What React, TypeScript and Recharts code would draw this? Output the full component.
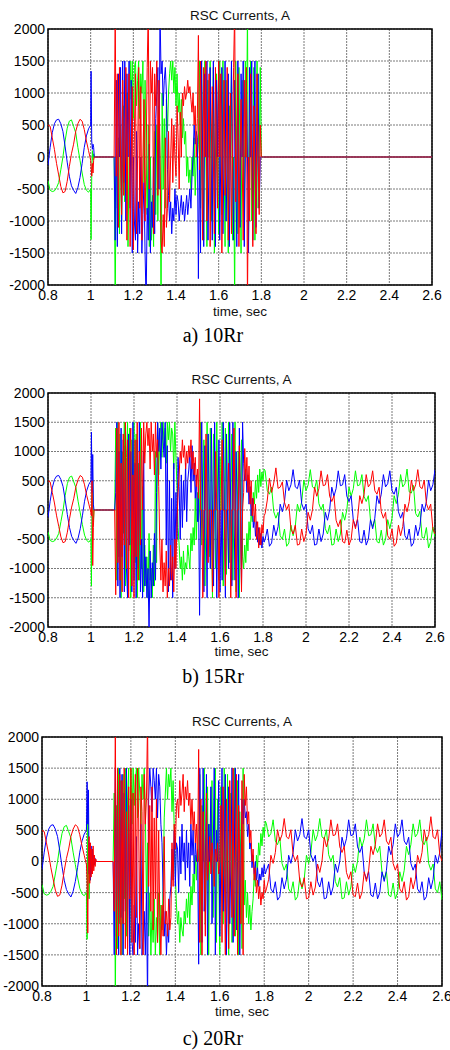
import React from "react";
import { LineChart, Line, XAxis, YAxis, CartesianGrid, ReferenceArea } from "recharts";

// axes
const X_TICKS = [0.8, 1, 1.2, 1.4, 1.6, 1.8, 2, 2.2, 2.4, 2.6];
const Y_TICKS = [-2000, -1500, -1000, -500, 0, 500, 1000, 1500, 2000];
const TITLE = "RSC Currents, A";
const X_LABEL = "time, sec";
const CAPTIONS = ["a) 10Rr", "b) 15Rr", "c) 20Rr"];

// pre-fault, 0.80 .. 1.00 s every 0.01 s (same for all three cases)
const PRE_RED = [500, 480, 300, 120, -100, -280, -460, -560, -540, -380, -150, 50, 200, 400, 520, 590, 560, 430, 250, 100, -50];
const PRE_GREEN = [-370, -520, -540, -530, -480, -400, -200, 0, 250, 450, 560, 580, 480, 380, 150, -50, -250, -430, -520, -550, -500];
const PRE_BLUE = [-130, 150, 380, 520, 580, 590, 520, 400, 170, -80, -300, -450, -520, -570, -480, -320, -100, 150, 330, 440, 500];

// fault transient right after 1.0 s (every 3 ms)
const FAULT_RED_A = [-150, -300, -100, -250, -50, 0, 0];
const FAULT_GREEN_A = [-1290, -300, 100, -50, 50, 0, 0];
const FAULT_BLUE_A = [1340, 250, 120, 200, 150, 0, 0];
const FAULT_RED_B = [-100, 500, -950, -300, 0, 0, 0];
const FAULT_GREEN_B = [-1300, 200, 500, -200, 0, 0, 0];
const FAULT_BLUE_B = [1330, 300, 950, 100, 0, 0, 0];
const FAULT_RED_C = [-300, -1150, 200, 400, -350, 300, -250, 200, -200, 250, -150, 100, -80, 40, 0, 0, 0];
const FAULT_GREEN_C = [-1250, 900, 300, -600, 200, -300, 150, 100, -150, 80, -60, 30, 0, 0, 0, 0, 0];
const FAULT_BLUE_C = [1280, 600, 1150, -200, 300, -300, 250, -200, 200, -100, 100, -50, 50, 0, 0, 0, 0];

// burst, 1.110 .. 1.805 s every 5 ms
const BURST_RED_A = [
  0, 2300, -300, 1300, -1100, 1400, 0, -900, 1200, -600,
  0, 1400, -1300, 600, 1300, -1400, 0, 1100, -1450, 400,
  1300, -1200, 0, 1400, -800, 1100, -1300, 0, 900, -1000,
  0, 1400, 2300, -500, 1500, 1000, 1400, -1200, 1300, 800,
  1500, -600, 1200, 0, -1300, -1500, -900, -1400, 300, -1100,
  -800, 400, -700, 0, 600, -400, 500, 0, -300, 800,
  300, -500, 700, 0, 1000, 800, 1100, 900, 1000, 1200,
  1000, 1100, 900, 700, 1000, 500, 800, 0, 600, 1900,
  -200, 1500, 0, -1300, 1400, 0, 1500, -1000, 0, 1300,
  -1400, 0, 1100, 0, -1200, 1400, 0, -800, 1500, 0,
  1300, -1500, 0, 1200, -600, 0, 1400, -1300, 0, 1000,
  -1200, 0, 1400, 2300, -700, 0, 1300, -1400, 0, 900,
  0, -1300, 1200, 0, 1400, -2300, 0, -1000, 1300, 0,
  -1400, 800, 0, -1200, 1300, 0, -900, 500, 0, 0,
];
const BURST_GREEN_A = [
  0, -2300, 0, -800, 300, -1200, 500, -1000, 0, 800,
  -700, 0, 1000, -1400, 0, 1500, 900, 1500, 600, 1400,
  1500, 800, 1200, 1500, 600, 1300, 1000, 1500, -400, 1200,
  0, -900, 500, -1400, 0, -1300, -600, -1400, 400, -900,
  500, -1000, 800, 0, -2300, 1000, -500, 600, -800, 900,
  400, 1000, 1300, 1500, 1200, 1500, 1000, 1400, 800, 1300,
  700, 1000, 500, 900, 300, 600, 200, 400, -300, 0,
  -400, -200, -500, 0, -300, 300, -600, 0, 0, 200,
  1500, -800, 1400, 0, -1300, 1500, 0, -1400, 1200, 0,
  1500, -1000, 0, 1400, -1500, 0, 1300, 0, -1200, 1500,
  0, -900, 1500, 0, -1400, 1200, 0, -1500, 800, 0,
  1400, -1300, 0, -2300, 1500, 0, -1200, 1400, 0, -1500,
  1200, 0, -1100, 1500, 0, 2300, -1300, 0, 1500, -1000,
  0, 1400, -1300, 0, 1500, -800, 0, 1400, 0, 0,
];
const BURST_BLUE_A = [
  0, -1300, 1200, -1400, 1300, 0, 1400, -1200, 1500, -400,
  1500, -1000, 1300, 0, 1500, -800, 1200, -1500, 0, -1000,
  -1300, 400, -1500, -700, -1200, 0, -1500, -900, -400, -1500,
  -2300, -800, -1300, 200, -1500, -700, -1100, 0, -1200, 600,
  1000, 1400, -500, 2300, 1300, 1500, 800, 1200, 1400, 1000,
  -200, -600, -1000, -700, -1200, -800, -1000, -500, -900, -600,
  -700, -1000, -800, -600, -900, -700, -1000, -800, -600, -900,
  -700, -500, -800, -300, 0, 500, 200, 400, 300, -1900,
  0, -1500, 1500, 0, -1400, 1300, 0, 1500, -1300, 0,
  1400, 0, -1300, 1500, 0, -1400, 1200, 0, 1500, -1300,
  0, 1400, -1200, 0, 1500, -1000, 0, 1300, -1400, 0,
  1500, 0, -1300, 1200, 0, -1400, 1500, 0, -1100, 1300,
  0, 1500, -1400, 0, 1200, 0, -1500, 1400, 0, 1500,
  -1300, 0, 1500, -1100, 0, 1300, -800, 0, 0, 0,
];

const BURST_RED_B = [
  0, -1450, 1400, -900, 1500, -1200, 800, -1400, 1300, -600,
  1500, -1000, 1200, -1500, 900, 1400, -1300, 600, -1500, 1200,
  -800, 1500, -1200, 1000, -600, 1400, 0, 1500, 800, 1300,
  1500, 1100, 1400, 700, 1500, 1000, 1300, 600, 1500, 900,
  1200, 400, -600, -1200, -500, -1400, -900, -1300, -700, -1500,
  -1000, -1300, -600, -1200, -800, -1400, -500, -1000, -200, 300,
  600, 1000, 800, 1200, 900, 1100, 700, 1000, 800, 1100,
  900, 1200, 700, 1000, 600, 900, 400, 700, 200, 1900,
  0, 0, -1500, 0, 0, 1300, 0, -900, 0, 0,
  0, -1400, 0, 0, 1000, 0, 0, -1500, 0, 0,
  1200, 0, 0, -1300, 0, 0, 800, 0, -1500, 0,
  0, 1400, 0, -1500, 0, 0, 1100, 0, -1400, 0,
  300, 1050, 500, 900, 300, 750, 100, 500, -100, 200,
  -200, 100, -500, -200, -650, -300, -600, -250, -400, -100,
];
const BURST_GREEN_B = [
  0, 1400, -1200, 1500, -800, 1300, -1500, 1000, -400, 1500,
  -1300, 900, 1500, -700, 1400, -1500, 1200, 200, 1500, -900,
  1300, -1500, 800, -1200, 1500, -1000, 400, -1400, -600, -1300,
  -800, -1500, -400, -1200, -1000, -1500, -600, -1300, 1000, -900,
  1500, 600, 1300, 1500, 900, 1500, 1100, 1400, 800, 1500,
  1200, 1500, 1000, 1400, 1300, 700, 1500, 900, 400, -300,
  -600, -1000, -800, -1200, -700, -1100, -900, -1000, -600, -800,
  -1000, -400, -700, -300, -600, 200, -500, 300, -200, 0,
  1500, -600, 0, 1200, -1300, 0, 1500, 0, -800, 1400,
  0, -1500, 1300, 0, -1000, 1500, 0, -1200, 900, 0,
  1500, -1300, 0, 1400, -1100, 0, 1500, -900, 0, 1300,
  -1200, 0, 1500, -1400, 0, 1000, -1500, 0, 1200, -800,
  -1000, -600, -900, -400, -700, -200, -500, 0, -200, 300,
  100, 500, 200, 600, 300, 700, 400, 650, 500, 700,
];
const BURST_BLUE_B = [
  0, 300, 1500, -1300, 1000, -1500, 1400, -800, 1200, -1400,
  1100, -1000, -1500, 1300, -600, 1000, -1400, 1500, -1200, 800,
  -1500, 1200, -1000, 1500, -1400, -500, -1500, 1000, -1300, -800,
  -1500, -1000, -2100, -700, -1500, -900, -1300, -400, -1200, 300,
  1500, 1000, 1400, 700, 1500, 1200, 900, 1500, -600, 1100,
  -1400, 500, -1200, 200, -1500, 800, -1000, 300, -500, 900,
  400, -500, 600, -300, 500, 0, 800, -200, 500, 700,
  1000, 300, 1100, 500, 800, 200, 600, -200, 300, -1800,
  0, 1500, 0, -1400, 1100, 0, -1500, 1300, 0, -1000,
  1400, 0, -1300, 1500, 0, -1500, 0, 1200, -1400, 0,
  -1200, 1500, 0, -1500, 1300, 0, -1000, 1500, 0, -1300,
  1500, 0, -1200, 1000, 0, -1500, 1400, 0, -1300, 1500,
  800, 500, 700, 300, 600, 100, 400, -100, 200, -300,
  -100, -450, -200, -550, -300, -600, -400, -650, -450, -550,
];

const BURST_RED_C = [
  0, 0, 0, -800, 2300, -1500, 1500, -1200, 1400, -1500,
  1300, -1000, 1500, -1400, 800, -1500, 1200, -600, 1500, -1300,
  1100, -1500, 1400, -900, 1500, 700, -1400, 1200, 800, -1500,
  1400, 600, 1000, 2300, -400, 900, -800, 1200, -1100, 700,
  -600, 1000, -1300, 500, -900, -1500, -700, -1200, 400, -1000,
  -800, -1200, -600, -1100, -900, 300, -400, 600, 200, 900,
  1000, 700, 1300, 900, 1100, 1400, 800, 1200, 1000, 1300,
  900, 1100, 600, 1000, 500, 800, 300, 600, 0, 1800,
  -1300, 1000, -1500, 800, 0, -1200, 1100, -300, 0, 400,
  -200, 300, 0, -400, 200, 0, 300, -200, 0, 900,
  -1300, 1200, 0, -1500, 1000, 0, -1400, 1300, 0, -900,
  1500, -1200, 0, 1400, -1500, 900, 0, -1000, 1300, -1500,
  1400, 900, 1200, 600, 800, 300, 500, 0, 200, -300,
  -100, -500, -300, -600, -400, -700, -500, -600, -300, -500,
];
const BURST_GREEN_C = [
  0, 0, 0, 1100, -2300, 900, -1400, 1500, -1000, 1300,
  -1500, 1400, -600, 1500, -1200, 1000, 1500, -1300, 1500, 600,
  1500, 900, 1300, 1500, 700, 1500, 1100, 600, 1400, 1000,
  1500, 800, -600, 300, -1200, -500, -1500, -800, -1300, -600,
  -1500, -900, -1300, -500, -1500, -700, -1100, -400, 700, 1100,
  1500, 1000, 1400, 1200, 1500, 800, 1300, 500, -200, -700,
  -1000, -800, -1300, -900, -1100, -1200, -800, -1000, -600, -900,
  -500, -1000, -400, -700, -200, -500, 100, -300, 200, 0,
  1400, -1500, 900, 0, 1500, -1000, 0, 1200, -1500, 600,
  0, 1300, -900, 0, 1500, -1300, 1000, 0, -1500, 1200,
  0, -1000, 1500, -800, 0, 1400, -1500, 0, 1100, -1300,
  0, 1500, -1200, 0, 1300, -1500, 800, 0, -1400, 1500,
  -700, -300, -900, -500, -1000, -700, -1100, -800, -600, -200,
  -400, 100, -100, 300, 100, 450, 250, 550, 400, 650,
];
const BURST_BLUE_C = [
  0, 0, 0, -1500, 1500, -1200, 1300, -1500, 1500, -900,
  1400, -1500, 1100, -800, 1500, -1400, 900, -1500, 1000, -1300,
  -1500, -700, -1300, 400, -1500, -1000, -1400, 600, -1500, -1200,
  -800, -1500, -500, -2300, 1000, 1500, 1200, 800, 1500, 1300,
  1000, 1500, 700, 1400, 1200, 600, 300, -500, -1200, -800,
  -1500, -1000, -1300, -600, -400, 200, -300, 500, -400, 300,
  200, -500, 400, -200, 600, 0, 300, -300, 500, -100,
  300, -400, 600, 100, 500, -200, 300, 0, 200, -1650,
  1500, 0, -1300, 1500, -800, 0, 1400, -1500, 600, 0,
  1200, -1000, 0, 1500, -1500, 500, 0, 1300, -1200, 0,
  1500, -800, 0, 1400, -1500, 0, 1200, -1000, 0, 1500,
  -1300, 0, 1500, -1100, 0, 1400, -1500, 0, 1000, 600,
  1000, 700, 800, 400, 600, 200, 300, -100, 100, -200,
  0, -300, -100, -400, -200, -300, -100, -250, -50, -200,
];

// after the burst, 1.81 .. 2.60 s every 10 ms
const POST_ZERO_A = [0, 0];
const POST_RED_B = [
  -60, 170, 540, 300, 460, 720, 370, 390, 480, 130,
  5, 100, -320, -410, -260, -600, -585, -325, -540, -410,
  -40, -175, 5, 390, 235, 365, 670, 415, 430, 605,
  235, 145, 245, -175, -285, -165, -540, -565, -345, -600,
  -500, -165, -320, -140, 245, 110, 270, 605, 395, 450,
  670, 330, 270, 390, -30, -140, -40, -440, -500, -325,
  -620, -565, -260, -440, -285, 100, -30, 145, 510, 330,
  430, 690, 395, 365, 510, 110, 5, 100, -320, -410,
];
const POST_GREEN_B = [
  670, 330, 270, 390, -30, -140, -40, -440, -500, -325,
  -620, -565, -260, -440, -285, 100, -30, 145, 510, 330,
  430, 690, 395, 365, 510, 110, 5, 100, -320, -410,
  -260, -600, -585, -325, -540, -410, -40, -175, 5, 390,
  235, 365, 670, 415, 430, 605, 235, 145, 245, -175,
  -285, -165, -540, -565, -345, -600, -500, -165, -320, -140,
  245, 110, 270, 605, 395, 450, 700, 310, 290, 420,
  -60, -120, -20, -470, -480, -300, -650, -540, -290, -460,
];
const POST_BLUE_B = [
  -500, -325, -620, -565, -260, -440, -285, 100, -30, 145,
  510, 330, 430, 690, 395, 365, 510, 110, 5, 100,
  -320, -410, -260, -600, -585, -325, -540, -410, -40, -175,
  5, 390, 235, 365, 670, 415, 430, 605, 235, 145,
  245, -175, -285, -165, -540, -565, -345, -600, -500, -165,
  -320, -140, 245, 110, 270, 605, 395, 450, 670, 330,
  270, 390, -30, -140, -40, -440, -500, -325, -620, -565,
  -260, -440, -285, 100, -30, 145, 510, 330, 430, 690,
];
const POST_RED_C = [
  -440, -285, 100, -30, 145, 510, 330, 430, 690, 395,
  365, 510, 110, 5, 100, -320, -410, -260, -600, -585,
  -325, -540, -410, -40, -175, 5, 390, 235, 365, 670,
  415, 430, 605, 235, 145, 245, -175, -285, -165, -540,
  -565, -345, -600, -500, -165, -320, -140, 245, 110, 270,
  605, 395, 450, 670, 330, 270, 390, -30, -140, -40,
  -440, -500, -325, -620, -565, -260, -440, -285, 100, -30,
  145, 510, 330, 430, 720, 395, 365, 510, 110, 5,
];
const POST_GREEN_C = [
  605, 395, 450, 670, 330, 270, 390, -30, -140, -40,
  -440, -500, -325, -620, -565, -260, -440, -285, 100, -30,
  145, 510, 330, 430, 690, 395, 365, 510, 110, 5,
  100, -320, -410, -260, -600, -585, -325, -540, -410, -40,
  -175, 5, 390, 235, 365, 670, 415, 430, 605, 235,
  145, 245, -175, -285, -165, -540, -565, -345, -600, -500,
  -165, -320, -140, 245, 110, 270, 605, 395, 450, 670,
  330, 270, 390, -30, -140, -40, -440, -500, -325, -620,
];
const POST_BLUE_C = [
  -140, -40, -440, -500, -325, -620, -565, -260, -440, -285,
  100, -30, 145, 510, 330, 430, 690, 395, 365, 510,
  110, 5, 100, -320, -410, -260, -600, -585, -325, -540,
  -410, -40, -175, 5, 390, 235, 365, 670, 415, 430,
  605, 235, 145, 245, -175, -285, -165, -540, -565, -345,
  -600, -500, -165, -320, -140, 245, 110, 270, 605, 395,
  450, 670, 330, 270, 390, -30, -140, -40, -440, -500,
  -325, -620, -565, -260, -440, -285, 100, -30, 145, 510,
];

type Seg = { t0: number; dt: number; v: number[] };
type Pt = { t: number; v: number };

const toPoints = (segs: Seg[]): Pt[] =>
  segs.flatMap((s) => s.v.map((v, i) => ({ t: +(s.t0 + i * s.dt).toFixed(4), v })));

const phase = (pre: number[], fault: number[], faultT0: number, burst: number[], post: number[], postDt: number) =>
  toPoints([
    { t0: 0.8, dt: 0.01, v: pre },
    { t0: faultT0, dt: 0.003, v: fault },
    { t0: 1.11, dt: 0.005, v: burst },
    { t0: 1.81, dt: postDt, v: post },
  ]);

// plot box positions in page pixels
const PANELS = [
  {
    left: 48, right: 432, top: 29, bottom: 285, titleY: 20, xLabelY: 316, captionY: 342,
    red: phase(PRE_RED, FAULT_RED_A, 1.002, BURST_RED_A, POST_ZERO_A, 0.79),
    green: phase(PRE_GREEN, FAULT_GREEN_A, 1.002, BURST_GREEN_A, POST_ZERO_A, 0.79),
    blue: phase(PRE_BLUE, FAULT_BLUE_A, 1.002, BURST_BLUE_A, POST_ZERO_A, 0.79),
  },
  {
    left: 48, right: 435, top: 393, bottom: 627, titleY: 384, xLabelY: 656, captionY: 683,
    red: phase(PRE_RED, FAULT_RED_B, 1.002, BURST_RED_B, POST_RED_B, 0.01),
    green: phase(PRE_GREEN, FAULT_GREEN_B, 1.002, BURST_GREEN_B, POST_GREEN_B, 0.01),
    blue: phase(PRE_BLUE, FAULT_BLUE_B, 1.002, BURST_BLUE_B, POST_BLUE_B, 0.01),
  },
  {
    left: 42, right: 442, top: 737, bottom: 986, titleY: 726, xLabelY: 1016, captionY: 1045,
    red: phase(PRE_RED, FAULT_RED_C, 1.003, BURST_RED_C, POST_RED_C, 0.01),
    green: phase(PRE_GREEN, FAULT_GREEN_C, 1.003, BURST_GREEN_C, POST_GREEN_C, 0.01),
    blue: phase(PRE_BLUE, FAULT_BLUE_C, 1.003, BURST_BLUE_C, POST_BLUE_C, 0.01),
  },
];

const SANS = "'Liberation Sans', Arial, sans-serif";
const SERIF = "'Liberation Serif', 'Times New Roman', serif";
const tickStyle = { fill: "#000", fontSize: 14, fontFamily: SANS };

const Panel = ({ p }: { p: (typeof PANELS)[number] }) => {
  const h = p.bottom - p.top + 40;
  return (
    <div style={{ position: "absolute", left: 0, top: p.top - 10 }}>
      <LineChart width={450} height={h} margin={{ top: 10, right: 450 - p.right, bottom: 0, left: 0 }}>
        <CartesianGrid stroke="#7a7a7a" strokeDasharray="2 1" strokeWidth={1} />
        <XAxis
          dataKey="t"
          type="number"
          domain={[0.8, 2.6]}
          ticks={X_TICKS}
          interval={0}
          allowDataOverflow
          height={30}
          axisLine={false}
          tickLine={false}
          tickSize={0}
          tickMargin={5}
          tick={tickStyle}
          tickFormatter={(v: number) => String(v)}
        />
        <YAxis
          type="number"
          domain={[-2000, 2000]}
          ticks={Y_TICKS}
          interval={0}
          allowDataOverflow
          width={p.left}
          axisLine={false}
          tickLine={false}
          tickSize={0}
          tickMargin={3}
          tick={tickStyle}
        />
        <Line data={p.green} dataKey="v" type="linear" stroke="#00ff00" strokeWidth={1} dot={false} isAnimationActive={false} />
        <Line data={p.blue} dataKey="v" type="linear" stroke="#0000ff" strokeWidth={1} dot={false} isAnimationActive={false} />
        <Line data={p.red} dataKey="v" type="linear" stroke="#ff0000" strokeWidth={1} dot={false} isAnimationActive={false} />
        <ReferenceArea x1={0.8} x2={2.6} y1={-2000} y2={2000} fill="none" stroke="#000" strokeWidth={1.5} />
      </LineChart>
    </div>
  );
};

export default function App() {
  return (
    <div style={{ position: "absolute", left: 0, top: 0, width: 450, height: 1050, background: "#fff" }}>
      {PANELS.map((p, i) => (
        <Panel key={i} p={p} />
      ))}
      <svg width={450} height={1050} style={{ position: "absolute", left: 0, top: 0, pointerEvents: "none" }}>
        {PANELS.map((p, i) => (
          <g key={i}>
            <text x={(p.left + p.right) / 2} y={p.titleY} textAnchor="middle" fontSize={13.5} fontFamily={SANS} fill="#111">
              {TITLE}
            </text>
            <text x={(p.left + p.right) / 2} y={p.xLabelY} textAnchor="middle" fontSize={13.5} fontFamily={SANS} fill="#111">
              {X_LABEL}
            </text>
            <text x={213} y={p.captionY} textAnchor="middle" fontSize={20} fontFamily={SERIF} fill="#000">
              {CAPTIONS[i]}
            </text>
          </g>
        ))}
      </svg>
    </div>
  );
}
